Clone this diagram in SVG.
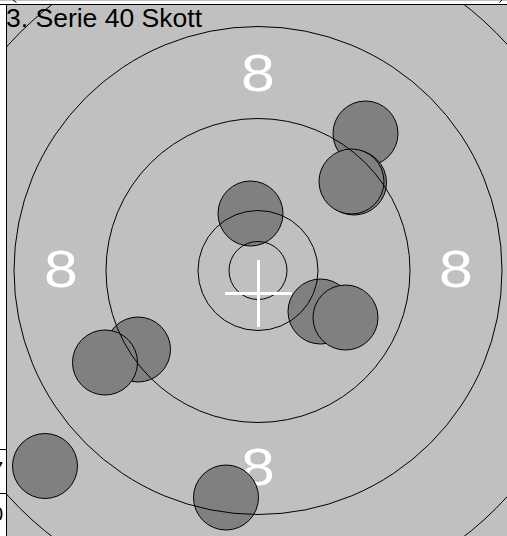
<svg xmlns="http://www.w3.org/2000/svg" width="507" height="536" viewBox="0 0 507 536">
<style>
.ring{fill:none;stroke:#000;stroke-width:1}
.shot{fill:#808080;stroke:#000;stroke-width:1}
.lbl{font-family:"Liberation Sans",Arial,sans-serif;font-size:52px;fill:#fff;text-anchor:middle}
.cross{stroke:#fff;stroke-width:3;fill:none}
.frame{stroke:#000;stroke-width:1;fill:none}
.frag{font-family:"Liberation Sans",Arial,sans-serif;font-size:20px;fill:#000;text-anchor:end}
</style>
<defs>
<clipPath id="area"><rect x="7" y="5" width="500" height="531"/></clipPath>
<clipPath id="col"><rect x="0" y="5" width="6" height="531"/></clipPath>
</defs>
<rect x="0" y="0" width="507" height="536" fill="#fff"/>
<rect x="0" y="0" width="507" height="1" fill="#c0c0c0"/>
<rect x="7" y="5" width="500" height="531" fill="#c0c0c0"/>
<g id="frame">
<line class="frame" x1="0" y1="4.5" x2="507" y2="4.5"/>
<line class="frame" x1="6.5" y1="4" x2="6.5" y2="536"/>
<line class="frame" x1="0" y1="449.5" x2="6" y2="449.5"/>
<line class="frame" x1="0" y1="493.5" x2="6" y2="493.5"/>
<line class="frame" x1="13" y1="0" x2="16.5" y2="2.5"/>
<line class="frame" x1="502" y1="0" x2="499.5" y2="2.5"/>
<g clip-path="url(#col)">
<text class="frag" x="3" y="476">7</text>
<text class="frag" x="3" y="521">0</text>
</g>
</g>
<g id="target" clip-path="url(#area)">
<g id="labels">
<text class="lbl" transform="translate(258,91) scale(1.17,1)">8</text>
<text class="lbl" transform="translate(61,287) scale(1.17,1)">8</text>
<text class="lbl" transform="translate(456,287) scale(1.17,1)">8</text>
<text class="lbl" transform="translate(258,485) scale(1.17,1)">8</text>
</g>
<g id="shots">
<circle id="s1" class="shot" cx="365.5" cy="133.5" r="32.5"/>
<circle id="s2" class="shot" cx="354" cy="182.5" r="32.5"/>
<circle id="s3" class="shot" cx="351.5" cy="181.5" r="32.5"/>
<circle id="s4" class="shot" cx="250.5" cy="213.5" r="32.5"/>
<circle id="s5" class="shot" cx="320.5" cy="311.5" r="32.5"/>
<circle id="s6" class="shot" cx="345.5" cy="317.5" r="32.5"/>
<circle id="s7" class="shot" cx="138" cy="349.5" r="32.5"/>
<circle id="s8" class="shot" cx="105" cy="362.5" r="32.5"/>
<circle id="s9" class="shot" cx="45" cy="466" r="32.5"/>
<circle id="s10" class="shot" cx="226" cy="497.5" r="32.5"/>
</g>
<g id="rings">
<circle class="ring" cx="258" cy="270.5" r="29"/>
<circle class="ring" cx="258" cy="270.5" r="60"/>
<circle class="ring" cx="258" cy="270.5" r="152"/>
<circle class="ring" cx="258" cy="270.5" r="244"/>
<circle class="ring" cx="258" cy="270.5" r="336.5"/>
</g>
<g id="cross">
<line class="cross" x1="258.5" y1="260" x2="258.5" y2="327"/>
<line class="cross" x1="225" y1="293.5" x2="292" y2="293.5"/>
</g>
<text id="title" x="6" y="27" font-family="Liberation Sans, Arial, sans-serif" font-size="25" fill="#000" textLength="196" lengthAdjust="spacingAndGlyphs">3. Serie 40 Skott</text>
</g>
</svg>
